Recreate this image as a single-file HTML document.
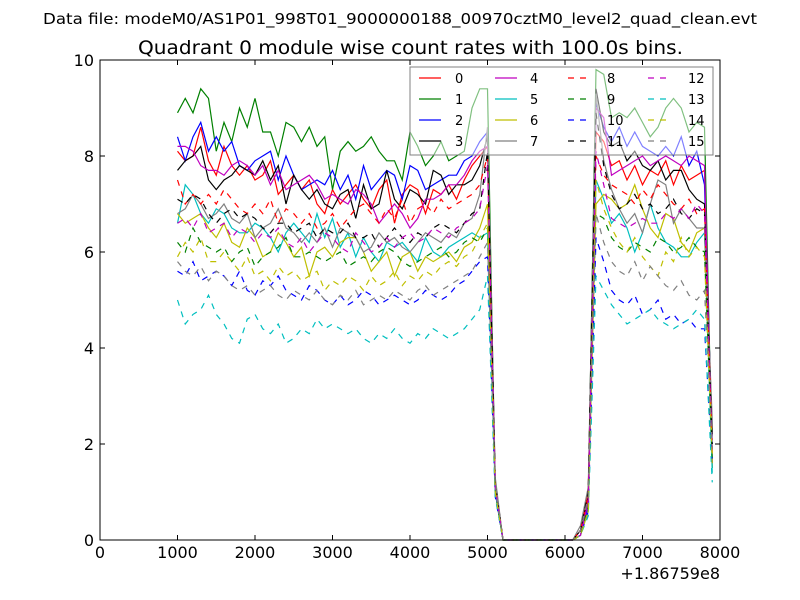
<!DOCTYPE html>
<html><head><meta charset="utf-8"><style>
body{margin:0;background:#fff;}
svg{display:block;font-family:"DejaVu Sans","Liberation Sans",sans-serif;}
</style></head><body>
<svg id="chart" width="800" height="600" viewBox="0 0 800 600">
<rect width="800" height="600" fill="#fff"/>
<text x="43" y="24" font-size="15" textLength="714" lengthAdjust="spacingAndGlyphs">Data file: modeM0/AS1P01_998T01_9000000188_00970cztM0_level2_quad_clean.evt</text>
<text x="138" y="54" font-size="19" textLength="545" lengthAdjust="spacingAndGlyphs">Quadrant 0 module wise count rates with 100.0s bins.</text>
<g id="series"></g>
<g id="axes"></g>
<g id="legend"></g>
</svg>
<script>
const xStart = 1000, xStep = 100;
const xTicks = [0,1000,2000,3000,4000,5000,6000,7000,8000];
const yTicks = [0,2,4,6,8,10];
const s0 = [8.1,7.9,8.0,8.6,7.9,7.6,8.2,7.8,7.6,7.8,7.5,7.6,7.9,7.2,7.4,7.6,7.3,7.5,7.0,6.8,7.3,7.0,7.2,7.4,7.1,6.9,7.3,7.5,6.6,7.2,7.4,7.3,6.8,7.3,7.2,7.4,7.1,7.5,7.8,8.0,8.2,1.2,0,0,0,0,0,0,0,0,0,0,0.2,1.0,8.5,8.3,7.8,7.9,7.5,7.8,7.4,7.7,7.6,7.9,7.4,7.8,7.5,7.6,7.7,1.8];
const s1 = [8.9,9.2,8.9,9.4,9.2,8.1,8.7,8.3,9.0,8.6,9.2,8.5,8.5,8.0,8.7,8.6,8.3,8.6,8.2,8.4,7.3,8.1,8.3,8.1,8.2,8.4,8.1,7.9,7.9,7.5,8.5,8.2,7.8,8.0,8.3,7.9,8.0,8.1,9.0,9.4,9.4,1.0,0,0,0,0,0,0,0,0,0,0,0.1,0.8,9.8,9.7,8.8,8.9,8.8,9.0,8.7,8.4,8.6,9.0,9.2,9.0,8.5,8.7,8.6,1.5];
const s2 = [8.4,7.9,8.4,8.7,8.1,8.4,8.1,8.3,7.8,7.7,7.9,8.0,8.1,7.5,8.0,7.6,7.3,7.4,7.5,7.4,7.7,7.3,7.6,7.1,7.8,7.3,7.5,7.7,7.6,7.1,7.8,7.7,7.3,7.4,7.5,7.6,7.6,7.9,8.0,8.3,8.5,1.1,0,0,0,0,0,0,0,0,0,0,0.1,0.7,9.1,8.6,8.3,8.6,8.2,8.5,8.2,8.1,8.0,8.2,8.0,8.4,7.8,8.1,7.4,2.0];
const s3 = [7.7,7.9,8.0,8.2,7.5,7.3,7.5,7.6,7.8,7.7,7.6,7.9,7.5,7.8,7.0,7.6,7.3,7.1,7.3,7.0,6.9,7.2,7.3,6.7,7.4,6.9,7.0,7.7,7.1,6.9,7.3,7.2,7.0,7.7,7.6,7.2,7.4,7.4,7.5,7.8,8.4,1.0,0,0,0,0,0,0,0,0,0,0,0.2,0.9,9.4,8.5,8.2,8.3,7.9,8.1,7.8,7.7,7.9,7.5,7.7,7.7,7.3,7.1,7.0,2.2];
const s4 = [8.2,8.2,8.1,7.8,7.7,7.7,7.6,7.8,7.9,7.8,7.6,7.8,7.4,7.7,7.3,7.4,7.5,7.6,7.4,7.1,7.2,7.1,7.0,7.3,7.2,7.0,6.6,6.8,7.0,6.8,6.5,6.7,7.1,7.1,7.2,7.4,7.4,7.6,7.9,8.1,8.2,1.2,0,0,0,0,0,0,0,0,0,0,0.1,0.8,9.0,8.8,7.6,7.7,7.8,7.9,8.0,7.8,7.9,8.0,7.9,7.8,8.0,7.9,7.8,1.6];
const s5 = [6.6,7.4,7.2,6.8,6.6,6.9,6.8,6.5,6.4,6.4,6.6,6.5,6.3,6.0,6.4,6.6,6.4,6.2,6.8,6.3,6.7,6.1,6.4,5.9,6.3,6.0,5.8,6.2,6.1,6.2,6.0,5.8,6.3,6.0,5.9,6.1,6.2,6.3,6.4,6.3,6.4,1.0,0,0,0,0,0,0,0,0,0,0,0.1,0.6,7.5,7.1,6.6,6.8,6.5,6.0,6.4,7.0,6.5,6.2,6.1,5.9,5.9,6.2,6.4,1.4];
const s6 = [6.8,6.6,6.7,6.8,6.5,6.3,6.6,6.2,6.1,6.5,6.3,5.9,6.0,6.4,6.2,5.9,6.1,5.5,6.0,6.1,5.9,6.2,6.3,6.3,6.0,5.6,5.8,6.0,5.5,5.9,6.0,5.6,5.9,5.8,5.9,6.0,5.8,6.1,6.2,6.5,7.0,1.1,0,0,0,0,0,0,0,0,0,0,0.1,0.6,7.0,7.2,7.1,6.9,7.0,7.4,6.9,6.5,6.3,6.8,6.7,6.2,6.0,6.4,6.5,1.8];
const s7 = [6.8,6.9,7.2,7.0,6.7,6.8,7.0,6.7,6.6,6.8,6.3,6.5,6.6,6.9,6.5,6.4,6.2,6.4,6.2,6.5,6.1,6.5,6.4,6.3,6.0,6.1,6.4,6.2,6.3,6.1,6.0,6.2,6.4,6.3,6.2,6.4,6.3,6.6,6.7,7.2,8.6,1.3,0,0,0,0,0,0,0,0,0,0,0.3,1.1,9.3,7.9,7.3,6.9,6.6,6.8,6.4,7.0,7.5,7.4,6.6,6.9,6.7,6.5,6.5,2.5];
const s8 = [7.5,7.0,7.2,7.0,7.2,7.0,7.3,7.1,6.9,6.8,7.0,6.8,7.1,6.6,6.9,6.8,6.6,6.8,6.5,6.6,6.8,6.5,6.7,6.9,7.0,6.8,6.6,6.9,6.7,7.1,6.6,6.9,7.0,6.8,7.1,6.9,7.0,7.1,7.2,7.4,8.0,1.1,0,0,0,0,0,0,0,0,0,0,0.2,0.9,8.0,7.6,7.4,7.3,7.2,7.0,7.3,7.1,7.4,7.2,7.0,6.9,7.1,6.8,6.9,1.9];
const s9 = [6.2,6.0,6.5,6.2,6.1,6.0,6.1,5.8,6.0,6.1,5.7,5.9,6.0,6.1,6.3,5.9,5.9,6.0,5.9,5.8,5.9,6.0,5.7,5.8,5.9,5.8,6.0,6.1,6.0,5.8,5.7,5.8,5.9,6.0,6.1,5.9,6.0,6.2,6.3,6.2,6.5,1.0,0,0,0,0,0,0,0,0,0,0,0.1,0.7,6.8,6.7,6.3,6.1,6.0,6.2,6.1,6.0,6.3,6.2,6.0,6.1,6.3,6.1,6.0,1.7];
const s10 = [5.6,5.5,5.8,5.4,5.5,5.6,5.5,5.3,5.6,5.2,5.1,5.4,5.3,5.5,5.2,5.1,5.0,5.3,5.2,5.0,4.9,5.1,4.9,5.0,5.2,5.1,4.9,5.0,5.1,5.0,4.9,5.0,5.2,5.1,5.0,5.1,5.3,5.4,5.6,5.8,5.9,0.9,0,0,0,0,0,0,0,0,0,0,0.1,0.6,6.3,5.8,5.2,5.0,4.9,5.1,4.7,4.8,5.0,4.6,4.7,4.5,4.6,4.4,4.4,1.6];
const s11 = [7.1,7.0,7.2,7.1,6.8,6.6,6.8,6.9,6.7,6.8,6.7,6.5,6.4,6.6,6.6,6.4,6.5,6.6,6.3,6.5,6.4,6.4,6.6,6.3,6.3,6.4,6.1,6.3,6.5,6.3,6.2,6.4,6.3,6.5,6.6,6.5,6.4,6.6,6.8,6.9,8.1,1.2,0,0,0,0,0,0,0,0,0,0,0.2,1.0,8.9,7.8,7.2,6.9,7.0,7.2,6.9,7.0,6.8,6.9,7.1,6.8,6.7,6.9,6.8,2.0];
const s12 = [6.6,6.7,6.5,6.8,6.4,6.5,6.6,6.3,6.5,6.4,6.2,6.4,6.3,6.5,6.2,6.1,6.3,6.0,6.2,6.4,6.3,6.1,6.0,6.4,6.2,6.0,6.1,6.3,6.1,6.3,6.4,6.2,6.3,6.5,6.4,6.3,6.5,6.6,6.7,6.9,7.8,1.1,0,0,0,0,0,0,0,0,0,0,0.1,0.8,8.1,7.4,6.7,6.6,6.5,6.6,6.7,6.6,6.6,6.8,6.7,6.9,6.7,7.0,6.8,1.8];
const s13 = [5.0,4.5,4.7,4.8,5.1,4.7,4.5,4.2,4.1,4.6,4.7,4.4,4.3,4.5,4.1,4.2,4.4,4.3,4.6,4.4,4.5,4.4,4.3,4.4,4.2,4.1,4.3,4.2,4.4,4.2,4.1,4.3,4.2,4.4,4.3,4.2,4.3,4.4,4.6,4.8,5.5,0.9,0,0,0,0,0,0,0,0,0,0,0.1,0.5,5.5,5.2,4.9,4.7,4.5,4.6,4.7,4.8,4.6,4.5,4.4,4.5,4.6,4.8,4.6,1.2];
const s14 = [5.9,6.2,6.0,6.3,5.8,5.8,6.0,5.8,5.6,5.9,5.5,5.6,5.4,5.7,5.5,5.6,5.4,5.5,5.6,5.2,5.4,5.3,5.5,5.4,5.2,5.5,5.3,5.4,5.6,5.3,5.5,5.4,5.6,5.5,5.7,5.8,5.7,5.9,6.0,6.3,6.6,1.0,0,0,0,0,0,0,0,0,0,0,0.1,0.6,7.5,6.9,6.5,6.2,6.0,6.3,5.9,5.7,5.5,6.0,5.8,6.3,5.9,6.1,5.9,1.6];
const s15 = [5.8,5.6,5.5,5.7,5.4,5.6,5.5,5.3,5.2,5.3,5.1,5.2,5.3,5.1,5.0,5.2,5.1,5.0,5.2,5.0,4.9,5.1,5.0,5.2,4.9,5.0,5.1,5.0,5.2,5.1,5.0,5.2,5.3,5.1,5.2,5.3,5.4,5.5,5.6,5.9,6.2,1.2,0,0,0,0,0,0,0,0,0,0,0.2,0.9,6.8,6.2,5.8,5.6,5.5,5.8,5.4,5.7,5.5,5.3,5.2,5.4,5.1,5.0,5.2,1.9];
const seriesValues = [s0,s1,s2,s3,s4,s5,s6,s7,s8,s9,s10,s11,s12,s13,s14,s15];
const seriesLabels = ["0","1","2","3","4","5","6","7","8","9","10","11","12","13","14","15"];

const colors = ["#ff0000","#008000","#0000ff","#000000","#bf00bf","#00bfbf","#bfbf00","#808080"];
const L=100,R=720,T=60,B=540;
const xs = v => L + (v-0)/(8000-0)*(R-L);
const ys = v => B - (v-0)/(10-0)*(B-T);
const NS="http://www.w3.org/2000/svg";
const mk=(t,a,p)=>{const e=document.createElementNS(NS,t);for(const k in a)e.setAttribute(k,a[k]);p.appendChild(e);return e;};

const sg=document.getElementById('series');
seriesValues.forEach((vals,si)=>{
  const d=vals.map((v,i)=>(i?'L':'M')+xs(xStart+i*xStep).toFixed(2)+' '+ys(v).toFixed(2)).join(' ');
  const p=mk('path',{d:d,fill:'none',stroke:colors[si%8],'stroke-width':1.2},sg);
  if(si>=8)p.setAttribute('stroke-dasharray','6 6');
  
  
});

const ag=document.getElementById('axes');
const frame=mk('rect',{x:L,y:T,width:R-L,height:B-T,fill:'none',stroke:'#000','stroke-width':1},ag);


xTicks.forEach(t=>{
  const x=xs(t);
  mk('line',{x1:x,y1:B,x2:x,y2:B-5,stroke:'#000'},ag);
  mk('line',{x1:x,y1:T,x2:x,y2:T+5,stroke:'#000'},ag);
  const tx=mk('text',{x:x,y:B+18,'font-size':16,'text-anchor':'middle'},ag);
  tx.textContent=t;
  
  
});
yTicks.forEach(t=>{
  const y=ys(t);
  mk('line',{x1:L,y1:y,x2:L+5,y2:y,stroke:'#000'},ag);
  mk('line',{x1:R,y1:y,x2:R-5,y2:y,stroke:'#000'},ag);
  const tx=mk('text',{x:L-6,y:y+6,'font-size':16,'text-anchor':'end'},ag);
  tx.textContent=t;
  
  
});
const off=mk('text',{x:R,y:579,'font-size':16,'text-anchor':'end'},ag);
off.textContent='+1.86759e8';



const lg=document.getElementById('legend');
const lbox=mk('rect',{x:410,y:67,width:303,height:88,fill:'#fff','fill-opacity':0.5,stroke:'#808080','stroke-width':1},lg);


const colX=[419,495,568,648], txtX=[455,530,607,688], rowY=[78,99,120,141];
seriesLabels.forEach((lab,si)=>{
  const c=Math.floor(si/4), r=si%4;
  const g=mk('g',{},lg);
  
  
  const ln=mk('line',{x1:colX[c],y1:rowY[r],x2:colX[c]+22,y2:rowY[r],stroke:colors[si%8],'stroke-width':1.2},g);
  if(si>=8)ln.setAttribute('stroke-dasharray','6 6');
  const tx=mk('text',{x:txtX[c],y:rowY[r]+5,'font-size':13},g);
  tx.textContent=lab;
});
</script>
</body></html>
